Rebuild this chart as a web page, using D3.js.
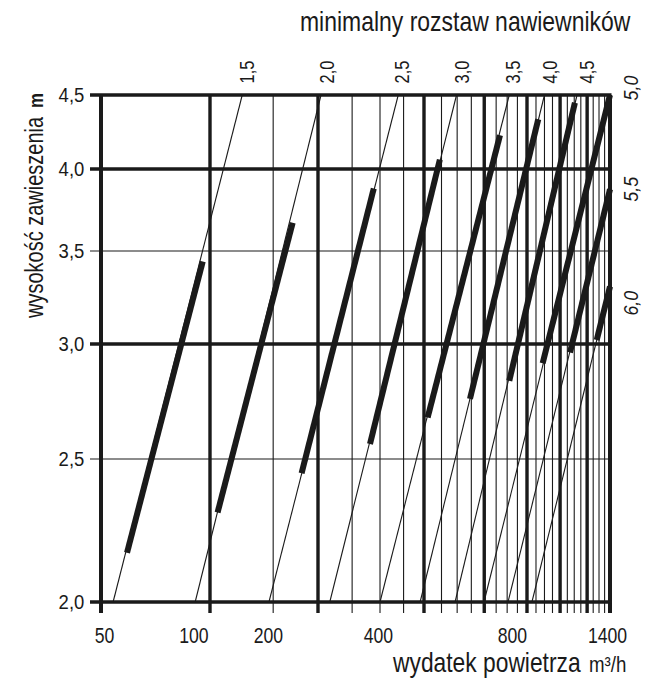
<!DOCTYPE html>
<html><head><meta charset="utf-8">
<script src="https://cdn.jsdelivr.net/npm/d3@7"></script>
<style>body{margin:0;background:#fff}svg{display:block}text{font-family:"Liberation Sans",Arial,Helvetica,sans-serif;fill:#1a1a1a}</style>
</head><body><svg id="c" width="651" height="697"></svg>
<script>
// ---- data ----
const flowKnots = [50, 100, 200, 400, 800, 1400];
const heightKnots = [2.0, 2.5, 3.0, 3.5, 4.0, 4.5];
const flowGrid = [50,100,150,200,250,300,350,400,450,500,550,600,650,700,750,800,850,900,950,1000,1050,1100,1150,1200,1250,1300,1350,1400];
const flowMajor = [50,100,200,400,600,800,1000,1200,1400];
const heightGrid = [2.0, 2.5, 3.0, 3.5, 4.0, 4.5];
const heightMajor = [2.0, 3.0, 4.0, 4.5];
const xTickLabels = ["50","100","200","400","800","1400"];
const xTickLabelAt = [51, 90, 145, 296, 723, 1372];
const yTickLabels = ["2,0","2,5","3,0","3,5","4,0","4,5"];
const spacingLabels = ["1,5","2,0","2,5","3,0","3,5","4,0","4,5","5,0","5,5","6,0"];
// each spacing line: flow at height 2.0, end point (flow, height)
const lineStartFlow = [54, 91, 146, 216, 300, 390, 493, 599, 704, 827];
const lineEndFlow   = [123, 204, 338, 498, 710, 900, 1121, 1400, 1400, 1400];
const lineEndHeight = [4.5, 4.5, 4.5, 4.5, 4.5, 4.5, 4.5, 4.5, 3.87, 3.30];
// thick (recommended) part of each line
const thickFromFlow   = [59, 105, 180, 281, 410, 545, 710, 889, 1069, 1280];
const thickFromHeight = [2.16, 2.30, 2.445, 2.56, 2.67, 2.75, 2.83, 2.91, 2.96, 3.02];
const thickToFlow     = [95.5, 170, 288, 445, 667, 863, 1105, 1400, 1400, 1400];
const thickToHeight   = [3.44, 3.665, 3.875, 4.06, 4.22, 4.33, 4.445, 4.5, 3.87, 3.30];
// label anchors
const topLabelFlow = [126.6, 211.7, 345.7, 515.6, 728, 934, 1199];
const rightLabelHeight = [4.55, 3.87, 3.21];

// ---- scales ----
const x = d3.scaleLog().domain(flowKnots).range([101, 210, 318, 424, 527, 610]);
const y = d3.scaleLog().domain(heightKnots).range([602, 459, 344, 251, 169, 95]);

const svg = d3.select("#c");
const ink = "#1a1a1a";
const x0 = x(50), x1 = x(1400), y0 = y(2.0), y1 = y(4.5);

// vertical grid
svg.append("g").selectAll("line").data(flowGrid).join("line")
  .attr("x1", d => x(d)).attr("x2", d => x(d))
  .attr("y1", y1).attr("y2", y0 + 11)
  .attr("stroke", ink)
  .attr("stroke-width", d => (d === 50 || d === 1400) ? 4 : flowMajor.includes(d) ? 3.4 : 1.1);

// horizontal grid
svg.append("g").selectAll("line").data(heightGrid).join("line")
  .attr("x1", x0 - 11).attr("x2", x1 + 1.5)
  .attr("y1", d => y(d)).attr("y2", d => y(d))
  .attr("stroke", ink)
  .attr("stroke-width", d => heightMajor.includes(d) ? 3.6 : 1.2);

// spacing lines (thin)
const idx = d3.range(spacingLabels.length);
svg.append("g").selectAll("line").data(idx).join("line")
  .attr("x1", i => x(lineStartFlow[i])).attr("y1", y(2.0))
  .attr("x2", i => x(lineEndFlow[i])).attr("y2", i => y(lineEndHeight[i]))
  .attr("stroke", ink).attr("stroke-width", 1.1);

// thick parts
svg.append("g").selectAll("line").data(idx).join("line")
  .attr("x1", i => x(thickFromFlow[i])).attr("y1", i => y(thickFromHeight[i]))
  .attr("x2", i => x(thickToFlow[i])).attr("y2", i => y(thickToHeight[i]))
  .attr("stroke", ink).attr("stroke-width", 6).attr("stroke-linecap", "butt");

// x tick labels via axis
const xAxis = d3.axisBottom(x).tickValues(xTickLabelAt)
  .tickFormat((d, i) => xTickLabels[i]).tickSize(0).tickPadding(26);
const gx = svg.append("g").attr("transform", `translate(0,${y0})`).call(xAxis);
gx.select(".domain").remove();
gx.selectAll("text").attr("font-size", 21.5).attr("fill", ink)
  .attr("transform", "scale(0.82,1)").style("font-family", '"Liberation Sans",Arial,sans-serif');

// y tick labels via axis
const yAxis = d3.axisLeft(y).tickValues(heightKnots)
  .tickFormat((d, i) => yTickLabels[i]).tickSize(0).tickPadding(19);
const gy = svg.append("g").attr("transform", `translate(${x0},0)`).call(yAxis);
gy.select(".domain").remove();
gy.selectAll("text").attr("font-size", 21).attr("fill", ink)
  .attr("transform", "scale(0.88,1)").style("font-family", '"Liberation Sans",Arial,sans-serif');

// top rotated spacing labels
svg.append("g").selectAll("text").data(topLabelFlow).join("text")
  .attr("transform", (d) => `translate(${x(d)},72) rotate(-90) scale(0.82,1)`)
  .attr("text-anchor", "middle").attr("dy", "0.36em")
  .attr("font-size", 20)
  .text((d, i) => spacingLabels[i]);

// right rotated italic labels
svg.append("g").selectAll("text").data(rightLabelHeight).join("text")
  .attr("transform", d => `translate(${x1 + 20},${y(d)}) rotate(-90) scale(0.85,1)`)
  .attr("text-anchor", "middle").attr("dy", "0.36em")
  .attr("font-size", 21).attr("font-style", "italic")
  .text((d, i) => spacingLabels[7 + i]);

// titles
svg.append("text").attr("transform", "translate(300,31) scale(0.82,1)")
  .attr("font-size", 28).text("minimalny rozstaw nawiewników");

svg.append("text").attr("transform", "translate(393,672) scale(0.815,1)")
  .attr("font-size", 28).text("wydatek powietrza");
svg.append("text").attr("transform", "translate(589,672) scale(0.85,1)")
  .attr("font-size", 22).text("m³/h");

const yt = svg.append("text").attr("transform", "translate(43,318) rotate(-90) scale(0.8,1)")
  .attr("font-size", 25);
yt.append("tspan").text("wysokość zawieszenia");
yt.append("tspan").attr("dx", 11).attr("font-weight", "bold").attr("font-size", 21).text("m");
</script></body></html>
